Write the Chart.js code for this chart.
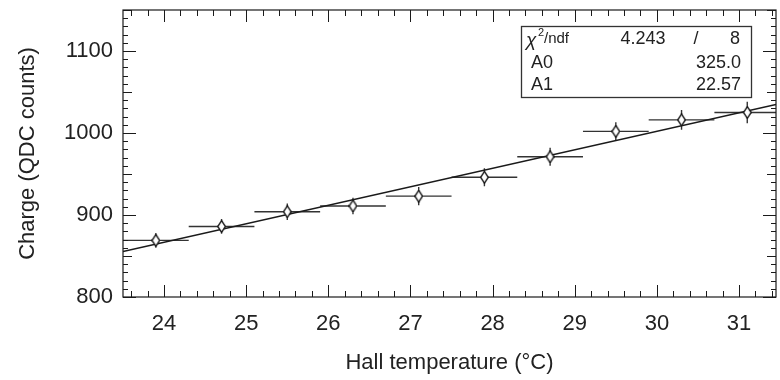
<!DOCTYPE html>
<html>
<head>
<meta charset="utf-8">
<script src="https://cdn.jsdelivr.net/npm/chart.js@4.4.0/dist/chart.umd.min.js"></script>
<style>
  html, body { margin: 0; padding: 0; background: #fff; overflow: hidden; }
  /* a little wider than the window so the frame ends right at the edge */
  #wrap { width: 783px; height: 380px; }
</style>
</head>
<body>
<div id="wrap"><canvas id="hallChart"></canvas></div>
<script>
// mean charge per hall temperature bin
const temperatures = [23.9, 24.7, 25.5, 26.3, 27.1, 27.9, 28.7, 29.5, 30.3, 31.1];
const binHalfWidths = [0.4, 0.4, 0.4, 0.4, 0.4, 0.4, 0.4, 0.4, 0.4, 0.4];
const charges = [869, 886, 904, 911, 923, 946, 971, 1002, 1016, 1025];
const chargeErrors = [9, 9, 10, 10, 11, 11, 11, 11, 12, 13];

const xTickValues = [24, 25, 26, 27, 28, 29, 30, 31];
const yTickValues = [800, 900, 1000, 1100];

// straight line fit: charge = A0 + A1 * T
const fitA0 = 325.0;
const fitA1 = 22.57;
const fitChi2 = 4.243;
const fitNdf = 8;

const X_MIN = 23.5, X_MAX = 31.45;
const Y_MIN = 800, Y_MAX = 1150;
const FONT = '"Liberation Sans", Arial, Helvetica, sans-serif';
const INK = '#1a1a1a';

function makeDiamond(w, h) {
    const c = document.createElement('canvas');
    c.width = w; c.height = h;
    const g = c.getContext('2d');
    g.beginPath();
    g.moveTo(w / 2, 0.7);
    g.lineTo(w - 0.7, h / 2);
    g.lineTo(w / 2, h - 0.7);
    g.lineTo(0.7, h / 2);
    g.closePath();
    g.fillStyle = '#fff';
    g.fill();
    g.strokeStyle = INK;
    g.lineWidth = 1.4;
    g.stroke();
    return c;
}

// error bars, drawn under the markers
const errorBars = {
    id: 'errorBars',
    beforeDatasetsDraw(chart) {
        const { ctx, chartArea } = chart;
        const xs = chart.scales.x, ys = chart.scales.y;
        ctx.save();
        ctx.beginPath();
        ctx.rect(chartArea.left, chartArea.top, chartArea.width, chartArea.height);
        ctx.clip();
        ctx.strokeStyle = '#333';
        ctx.lineWidth = 1.4;
        temperatures.forEach((t, i) => {
            const px = xs.getPixelForValue(t);
            const py = ys.getPixelForValue(charges[i]);
            ctx.beginPath();
            ctx.moveTo(xs.getPixelForValue(t - binHalfWidths[i]), py);
            ctx.lineTo(xs.getPixelForValue(t + binHalfWidths[i]), py);
            ctx.moveTo(px, ys.getPixelForValue(charges[i] - chargeErrors[i]));
            ctx.lineTo(px, ys.getPixelForValue(charges[i] + chargeErrors[i]));
            ctx.stroke();
        });
        ctx.restore();
    }
};

// frame with inward ticks on all four sides, plus the fit box
const frameAndStats = {
    id: 'frameAndStats',
    afterDraw(chart) {
        const { ctx, chartArea } = chart;
        const { left, right, top, bottom } = chartArea;
        const xs = chart.scales.x, ys = chart.scales.y;
        ctx.save();
        ctx.strokeStyle = INK;
        ctx.lineWidth = 1.2;
        ctx.strokeRect(left, top, right - left, bottom - top);

        ctx.beginPath();
        for (let i = Math.ceil(X_MIN * 5); i <= Math.floor(X_MAX * 5); i++) {
            const px = Math.round(xs.getPixelForValue(i / 5)) + 0.5;
            const len = i % 5 === 0 ? 12 : 6;
            ctx.moveTo(px, bottom); ctx.lineTo(px, bottom - len);
            ctx.moveTo(px, top); ctx.lineTo(px, top + len);
        }
        for (let v = Y_MIN; v <= Y_MAX; v += 10) {
            const py = Math.round(ys.getPixelForValue(v)) + 0.5;
            const len = v % 100 === 0 ? 13 : (v % 50 === 0 ? 9 : 5);
            ctx.moveTo(left, py); ctx.lineTo(left + len, py);
            ctx.moveTo(right, py); ctx.lineTo(right - len, py);
        }
        ctx.lineWidth = 1;
        ctx.stroke();

        // fit statistics box
        const bx = 521, by = 26, bw = 230, bh = 71;
        ctx.fillStyle = '#fff';
        ctx.fillRect(bx, by, bw, bh);
        ctx.lineWidth = 1.3;
        ctx.strokeStyle = '#333';
        ctx.strokeRect(bx + 0.5, by + 0.5, bw, bh);

        ctx.fillStyle = '#222';
        ctx.textBaseline = 'middle';
        ctx.font = 'italic 19px ' + FONT;
        ctx.textAlign = 'left';
        ctx.fillText('\u03c7', 526, 41);
        ctx.font = '11px ' + FONT;
        ctx.fillText('2', 538, 33);
        ctx.font = '15px ' + FONT;
        ctx.fillText('/ndf', 544, 39);
        ctx.font = '18px ' + FONT;
        ctx.fillText('A0', 531, 63);
        ctx.fillText('A1', 531, 85);
        ctx.textAlign = 'center';
        ctx.fillText(fitChi2.toFixed(3), 643, 39);
        ctx.fillText('/', 696, 39);
        ctx.textAlign = 'right';
        ctx.fillText(String(fitNdf), 740, 39);
        ctx.fillText(fitA0.toFixed(1), 741, 63);
        ctx.fillText(fitA1.toFixed(2), 741, 85);
        ctx.restore();
    }
};

const pointData = temperatures.map((t, i) => ({ x: t, y: charges[i] }));
const fitData = [X_MIN, X_MAX].map(t => ({ x: t, y: fitA0 + fitA1 * t }));

const ctx = document.getElementById('hallChart').getContext('2d');
new Chart(ctx, {
    type: 'scatter',
    data: {
        datasets: [{
            data: pointData,
            pointStyle: makeDiamond(9, 13),
            pointRadius: 6,
            showLine: false
        }, {
            data: fitData,
            showLine: true,
            borderColor: INK,
            borderWidth: 1.5,
            pointRadius: 0,
            fill: false
        }]
    },
    options: {
        responsive: true,
        maintainAspectRatio: false,
        animation: false,
        events: [],
        layout: { padding: 0 },
        plugins: { legend: { display: false }, tooltip: { enabled: false } },
        scales: {
            x: {
                type: 'linear',
                min: X_MIN,
                max: X_MAX,
                grid: { display: false, drawTicks: false },
                border: { display: false },
                afterBuildTicks: s => { s.ticks = xTickValues.map(v => ({ value: v })); },
                afterFit: s => {
                    s.height = 83;
                    s.paddingLeft = 0;
                    s.paddingRight = 2;
                },
                ticks: {
                    autoSkip: false,
                    maxRotation: 0,
                    padding: 14,
                    color: '#222',
                    font: { family: FONT, size: 22 },
                    callback: v => String(v)
                },
                title: {
                    display: true,
                    text: 'Hall temperature (\u00b0C)',
                    color: '#222',
                    font: { family: FONT, size: 22 },
                    padding: { top: 0, bottom: 4 }
                }
            },
            y: {
                type: 'linear',
                min: Y_MIN,
                max: Y_MAX,
                grid: { display: false, drawTicks: false },
                border: { display: false },
                afterBuildTicks: s => { s.ticks = yTickValues.map(v => ({ value: v })); },
                afterFit: s => {
                    s.width = 123;
                    s.paddingTop = 10;
                    s.paddingBottom = 0;
                },
                ticks: {
                    autoSkip: false,
                    padding: 10,
                    color: '#222',
                    font: { family: FONT, size: 22 },
                    callback: v => String(v)
                },
                title: {
                    display: true,
                    text: 'Charge (QDC counts)',
                    color: '#222',
                    font: { family: FONT, size: 22 },
                    padding: { top: 15, bottom: 0 }
                }
            }
        }
    },
    plugins: [errorBars, frameAndStats]
});
</script>
</body>
</html>
